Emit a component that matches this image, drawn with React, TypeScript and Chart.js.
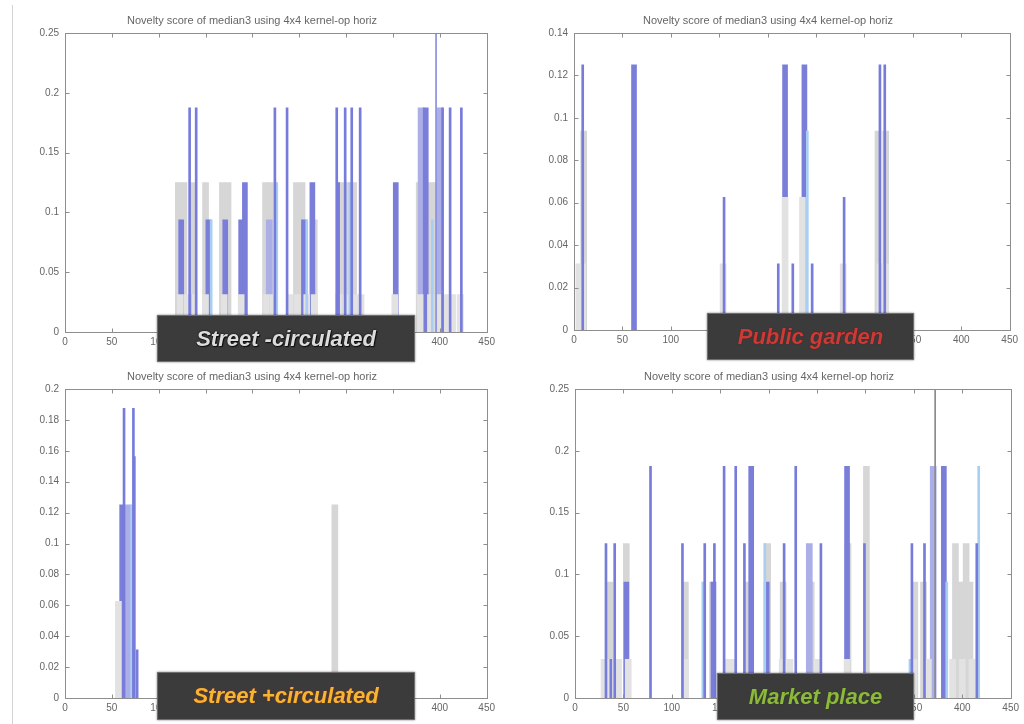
import React, { useEffect, useRef } from "react";
import { Chart, registerables } from "chart.js";
Chart.register(...registerables);

const TITLE = "Novelty score of median3 using 4x4 kernel-op horiz";
const FONT = "'Liberation Sans', Arial, sans-serif";

// ---------- Top-left (Street -circulated) ----------
const tlLineX = [133, 140, 224, 237, 290, 299, 306, 315, 403, 411, 423, 292];
const tlLineY = [0.1875, 0.1875, 0.1875, 0.1875, 0.1875, 0.1875, 0.1875, 0.1875, 0.1875, 0.1875, 0.1875, 0.125];
const tlPeakX = [396];
const tlPeakY = [0.25];
const tlLightX = [134, 156, 226, 258, 304, 392];
const tlLightY = [0.03125, 0.09375, 0.125, 0.09375, 0.125, 0.09375];
const tlGrayFrontX = [123, 130, 136, 150, 170, 188, 215, 222, 240, 248, 258, 266, 292, 300, 310, 316, 352, 379, 390, 398, 406, 414, 422];
const tlGrayFrontY = [0.03125, 0.03125, 0.03125, 0.03125, 0.03125, 0.03125, 0.03125, 0.03125, 0.03125, 0.03125, 0.03125, 0.03125, 0.03125, 0.03125, 0.03125, 0.03125, 0.03125, 0.03125, 0.03125, 0.03125, 0.03125, 0.03125, 0.03125];
const tlBlueX = [124, 153, 171, 188, 192, 255, 264, 353, 385];
const tlBlueY = [0.09375, 0.09375, 0.09375, 0.09375, 0.125, 0.09375, 0.125, 0.125, 0.1875];
const tlPaleX = [218, 380, 400];
const tlPaleY = [0.09375, 0.1875, 0.1875];
const tlGrayBackX = [121, 127, 137, 150, 168, 174, 214, 219, 247, 253, 266, 296, 302, 308, 378, 384, 390, 396];
const tlGrayBackY = [0.125, 0.125, 0.125, 0.125, 0.125, 0.125, 0.125, 0.125, 0.125, 0.125, 0.09375, 0.125, 0.125, 0.125, 0.125, 0.125, 0.125, 0.125];

// ---------- Top-right (Public garden) ----------
const trLineX = [9, 155, 211, 226, 246, 279, 316, 321];
const trLineY = [0.125, 0.0625, 0.03125, 0.03125, 0.03125, 0.0625, 0.125, 0.125];
const trLightX = [241];
const trLightY = [0.09375];
const trGrayFrontX = [5, 9, 154, 218, 236, 278, 316, 322];
const trGrayFrontY = [0.03125, 0.03125, 0.03125, 0.0625, 0.0625, 0.03125, 0.03125, 0.03125];
const trBlueX = [62, 218, 238];
const trBlueY = [0.125, 0.125, 0.125];
const trPaleX: number[] = [];
const trPaleY: number[] = [];
const trGrayBackX = [10, 314, 322];
const trGrayBackY = [0.09375, 0.09375, 0.09375];

// ---------- Bottom-left (Street +circulated) ----------
const blLineX = [63, 73, 77, 74];
const blLineY = [0.1875, 0.1875, 0.03125, 0.15625];
const blLightX = [71];
const blLightY = [0.125];
const blGrayFrontX = [57];
const blGrayFrontY = [0.0625];
const blBlueX = [61];
const blBlueY = [0.125];
const blPaleX = [67];
const blPaleY = [0.125];
const blGrayBackX = [288];
const blGrayBackY = [0.125];

// ---------- Bottom-right (Market place) ----------
const brLineX = [32, 37, 41, 78, 111, 134, 144, 154, 166, 175, 216, 228, 254, 299, 348, 361, 415];
const brLineY = [0.125, 0.03125, 0.125, 0.1875, 0.125, 0.125, 0.125, 0.1875, 0.1875, 0.125, 0.125, 0.1875, 0.125, 0.125, 0.125, 0.125, 0.125];
const brRuleX = [372];
const brRuleY = [0.25];
const brLightX = [132, 196, 346, 384, 417];
const brLightY = [0.09375, 0.125, 0.03125, 0.09375, 0.1875];
const brGrayFrontX = [30, 36, 45, 55, 114, 157, 163, 214, 222, 251, 281, 350, 365, 390, 400, 410];
const brGrayFrontY = [0.03125, 0.03125, 0.03125, 0.03125, 0.03125, 0.03125, 0.03125, 0.03125, 0.03125, 0.03125, 0.03125, 0.03125, 0.03125, 0.03125, 0.03125, 0.03125];
const brBlueX = [53, 143, 182, 198, 281, 381];
const brBlueY = [0.09375, 0.09375, 0.1875, 0.09375, 0.1875, 0.1875];
const brPaleX = [242, 370];
const brPaleY = [0.125, 0.1875];
const brGrayBackX = [36, 53, 114, 142, 178, 199, 215, 244, 282, 301, 351, 360, 393, 398, 404, 408];
const brGrayBackY = [0.09375, 0.125, 0.09375, 0.09375, 0.09375, 0.125, 0.09375, 0.09375, 0.125, 0.1875, 0.09375, 0.09375, 0.125, 0.09375, 0.125, 0.09375];

type Series = { x: number[]; y: number[]; color: string; thickness: number };
type Panel = { left: number; top: number; width: number; height: number; yMax: number; yStep: number; series: Series[] };

const C_LINE = "#777cdb";
const C_LIGHT = "#a8cef2";
const C_GRAYF = "#e2e2e2";
const C_BLUE = "#7a7ed9";
const C_PALE = "#abaee7";
const C_GRAYB = "#d6d6d6";

function mk(lx, ly, lix, liy, gfx, gfy, bx, by, px, py, gbx, gby): Series[] {
  return [
    { x: lx, y: ly, color: C_LINE, thickness: 2 },
    { x: lix, y: liy, color: C_LIGHT, thickness: 2 },
    { x: gfx, y: gfy, color: C_GRAYF, thickness: 6 },
    { x: bx, y: by, color: C_BLUE, thickness: 5 },
    { x: px, y: py, color: C_PALE, thickness: 6 },
    { x: gbx, y: gby, color: C_GRAYB, thickness: 6 },
  ];
}

const panels: Panel[] = [
  { left: 15, top: 8, width: 484, height: 344, yMax: 0.25, yStep: 0.05,
    series: [{ x: tlPeakX, y: tlPeakY, color: "#8a8ee0", thickness: 1 },
      ...mk(tlLineX, tlLineY, tlLightX, tlLightY, tlGrayFrontX, tlGrayFrontY, tlBlueX, tlBlueY, tlPaleX, tlPaleY, tlGrayBackX, tlGrayBackY)] },
  { left: 524, top: 8, width: 498, height: 342, yMax: 0.14, yStep: 0.02,
    series: mk(trLineX, trLineY, trLightX, trLightY, trGrayFrontX, trGrayFrontY, trBlueX, trBlueY, trPaleX, trPaleY, trGrayBackX, trGrayBackY) },
  { left: 15, top: 364, width: 484, height: 354, yMax: 0.2, yStep: 0.02,
    series: mk(blLineX, blLineY, blLightX, blLightY, blGrayFrontX, blGrayFrontY, blBlueX, blBlueY, blPaleX, blPaleY, blGrayBackX, blGrayBackY) },
  { left: 525, top: 364, width: 498, height: 354, yMax: 0.25, yStep: 0.05,
    series: [{ x: brRuleX, y: brRuleY, color: "#8a8a8a", thickness: 1 },
      ...mk(brLineX, brLineY, brLightX, brLightY, brGrayFrontX, brGrayFrontY, brBlueX, brBlueY, brPaleX, brPaleY, brGrayBackX, brGrayBackY)] },
];

const boxPlugin = {
  id: "matlabBox",
  afterDatasetsDraw(chart: any) {
    const { ctx, chartArea: a, scales } = chart;
    ctx.save();
    ctx.strokeStyle = "#8e8e8e";
    ctx.lineWidth = 1;
    const l = Math.round(a.left) + 0.5, t = Math.round(a.top) + 0.5;
    const r = Math.round(a.right) + 0.5, b = Math.round(a.bottom) + 0.5;
    ctx.strokeRect(l, t, r - l, b - t);
    const L = 4;
    ctx.beginPath();
    scales.x.ticks.forEach((tk: any) => {
      const px = Math.round(scales.x.getPixelForValue(tk.value)) + 0.5;
      ctx.moveTo(px, b); ctx.lineTo(px, b - L);
      ctx.moveTo(px, t); ctx.lineTo(px, t + L);
    });
    scales.y.ticks.forEach((tk: any) => {
      const py = Math.round(scales.y.getPixelForValue(tk.value)) + 0.5;
      ctx.moveTo(l, py); ctx.lineTo(l + L, py);
      ctx.moveTo(r, py); ctx.lineTo(r - L, py);
    });
    ctx.stroke();
    ctx.restore();
  },
};

function PanelChart({ p }: { p: Panel }) {
  const ref = useRef<HTMLCanvasElement>(null);
  useEffect(() => {
    if (!ref.current) return;
    const chart = new Chart(ref.current, {
      type: "bar",
      data: {
        datasets: p.series.map((s) => ({
          data: s.x.map((x, i) => ({ x, y: s.y[i] })),
          backgroundColor: s.color,
          borderWidth: 0,
          barThickness: s.thickness,
          grouped: false,
        })),
      } as any,
      options: {
        animation: false,
        responsive: false,
        maintainAspectRatio: false,
        layout: { padding: { left: 0, right: 10, top: 0, bottom: 0 } },
        plugins: {
          legend: { display: false },
          tooltip: { enabled: false },
          title: {
            display: true,
            text: TITLE,
            color: "#666",
            font: { family: FONT, size: 11, weight: "normal", lineHeight: 1 },
            padding: { top: 7, bottom: 7 },
          },
        },
        scales: {
          x: {
            type: "linear",
            min: 0,
            max: 450,
            offset: false,
            grid: { display: false, drawTicks: false },
            border: { display: false },
            ticks: { stepSize: 50, color: "#666", font: { family: FONT, size: 10 }, padding: 4, maxRotation: 0, autoSkip: false },
            afterFit: (s: any) => { s.height = 20; },
          },
          y: {
            type: "linear",
            min: 0,
            max: p.yMax,
            grid: { display: false, drawTicks: false },
            border: { display: false },
            ticks: {
              stepSize: p.yStep,
              color: "#666",
              font: { family: FONT, size: 10 },
              padding: 6,
              callback: (v: any) => String(Number(Number(v).toFixed(4))),
            },
            afterFit: (s: any) => { s.width = 50; },
          },
        },
      } as any,
      plugins: [boxPlugin],
    });
    return () => chart.destroy();
  }, [p]);
  return (
    <canvas
      ref={ref}
      width={p.width}
      height={p.height}
      style={{ position: "absolute", left: p.left, top: p.top, width: p.width, height: p.height, filter: "blur(0.5px)" }}
    />
  );
}

type Tag = { text: string; left: number; top: number; width: number; height: number; color: string; shadow: string };
const tags: Tag[] = [
  { text: "Street -circulated", left: 157, top: 315, width: 258, height: 47, color: "#dcdcdc", shadow: "0 0 2px #000, 1px 1px 1px #111" },
  { text: "Public garden", left: 707, top: 313, width: 207, height: 47, color: "#cc3a36", shadow: "0 0 1px #5a1010" },
  { text: "Street +circulated", left: 157, top: 672, width: 258, height: 48, color: "#f2b630", shadow: "0 0 1.5px #b02818" },
  { text: "Market place", left: 717, top: 673, width: 197, height: 47, color: "#8cb83c", shadow: "0 0 1.5px #2c4010" },
];

export default function App() {
  return (
    <div style={{ position: "absolute", left: 0, top: 0, width: 1024, height: 724, background: "#fff", overflow: "hidden" }}>
      <div style={{ position: "absolute", left: 12, top: 5, width: 1, height: 719, background: "#d4d4d4" }} />
      {panels.map((p, i) => (
        <PanelChart key={i} p={p} />
      ))}
      {tags.map((t, i) => (
        <div
          key={i}
          style={{
            position: "absolute",
            left: t.left,
            top: t.top,
            width: t.width,
            height: t.height,
            boxSizing: "border-box",
            background: "#3b3b3b",
            border: "1px solid #6e6e6e",
            boxShadow: "0 0 2px rgba(0,0,0,0.5)",
            display: "flex",
            alignItems: "center",
            justifyContent: "center",
            fontFamily: FONT,
            fontWeight: "bold",
            fontStyle: "italic",
            fontSize: 22,
            color: t.color,
            textShadow: t.shadow,
            whiteSpace: "nowrap",
          }}
        >
          {t.text}
        </div>
      ))}
    </div>
  );
}
